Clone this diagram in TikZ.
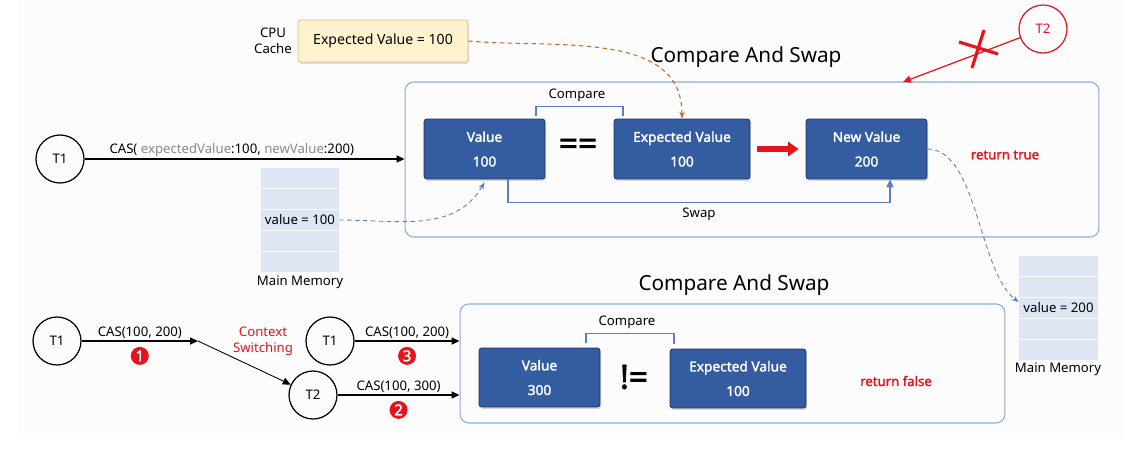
\documentclass[tikz,border=0pt]{standalone}
\usepackage{fontspec}
\setmainfont{Noto Sans}[AutoFakeBold=2]
\usetikzlibrary{arrows.meta,shadows}
\definecolor{boxblue}{HTML}{335DA0}
\definecolor{boxedge}{HTML}{1F3560}
\definecolor{lineblue}{HTML}{5B7EC2}
\definecolor{frameblue}{HTML}{8FAADC}
\definecolor{cellblue}{HTML}{DEE5F3}
\definecolor{cachefill}{HTML}{FFF2CC}
\definecolor{cacheedge}{HTML}{F2B880}
\definecolor{dashorange}{HTML}{C46A2A}
\definecolor{alertred}{HTML}{E8141B}
\definecolor{argray}{HTML}{8A8A8A}

\tikzset{
  valbox/.style={draw=boxedge, fill=boxblue, rounded corners=1.5pt, text=white, align=center,
    font=\fontsize{7.8}{14}\selectfont\bfseries, minimum height=1.2cm,
    drop shadow={shadow xshift=0.6pt, shadow yshift=-1pt, opacity=0.3}},
  frame/.style={draw=frameblue, rounded corners=5pt, line width=0.6pt},
  thread/.style={draw, circle, minimum size=0.96cm, inner sep=0pt, line width=0.7pt,
    font=\fontsize{7.5}{9}\selectfont},
  cell/.style={fill=cellblue, minimum height=0.4cm, inner sep=0pt, font=\fontsize{7.5}{9}\selectfont},
  lbl/.style={font=\fontsize{7.5}{9}\selectfont, inner sep=1pt},
  title/.style={font=\fontsize{11.8}{15}\selectfont},
  numdot/.style={circle, fill=alertred, text=white, minimum size=0.36cm, inner sep=0pt,
    font=\fontsize{8.5}{8}\selectfont\bfseries},
  redtext/.style={text=alertred, font=\fontsize{7.5}{9}\selectfont\bfseries},
  memdash/.style={lineblue, dash pattern=on 2.5pt off 2pt, line width=0.5pt, -{Stealth[length=4pt]}},
}

\begin{document}
\begin{tikzpicture}[x=0.02cm, y=-0.02cm, >={Triangle[length=4.5pt,width=4pt]}]
    \useasboundingbox (0,0) rectangle (1136,463);
    \fill[black!1.2] (18,0) rectangle (1124,438);

    % T1 succeeds
    \node[lbl, align=center] (cpu) at (273,41) {CPU\\Cache};
    \node[draw=cacheedge, fill=cachefill, rounded corners=1.5pt, minimum width=3.4cm, minimum height=0.84cm,
      font=\fontsize{8}{10}\selectfont, drop shadow={shadow xshift=0.6pt, shadow yshift=-1pt, opacity=0.25}]
      (cache) at (383,41) {Expected Value = 100};
    \node[title] (titleA) at (746,57) {Compare And Swap};
    \node[frame, minimum width=13.88cm, minimum height=3.1cm] (casA) at (752,159.5) {};
    \node[thread] (t1a) at (60,159) {T1};
    \node[valbox, minimum width=2.42cm] (vA) at (484.5,149) {Value\\100};
    \node[font=\fontsize{19}{19}\selectfont\bfseries] (eqA) at (578,147) {==};
    \node[valbox, minimum width=2.72cm] (evA) at (682,149) {Expected Value\\100};
    \node[valbox, minimum width=2.42cm] (nvA) at (866.5,149) {New Value\\200};
    \node[redtext] (okA) at (1005,155) {return true};
    \node[lbl] (cmpA) at (577,95) {Compare};
    \node[lbl] (swapA) at (699,214) {Swap};
    \node[thread, draw=alertred, text=alertred] (t2a) at (1043,29) {T2};
    \coordinate (hit) at (903,82);

    \foreach \i/\y/\txt in {1/178/{},2/199/{},3/220/{value = 100},4/241/{},5/262/{}}
      \node[cell, minimum width=1.56cm] (mA\i) at (300,\y) {\txt};
    \node[lbl] (memA) at (300,282) {Main Memory};
    \foreach \i/\y/\txt in {1/266/{},2/287/{},3/308/{value = 200},4/329/{},5/350/{}}
      \node[cell, minimum width=1.58cm] (mB\i) at (1058.5,\y) {\txt};
    \node[lbl] (memB) at (1058,369) {Main Memory};

    \draw[->, line width=0.7pt] (t1a) -- (t1a -| casA.west)
      node[lbl, pos=0.46, above] {CAS( \textcolor{argray}{expectedValue}:100, \textcolor{argray}{newValue}:200)};
    \draw[lineblue, line width=0.6pt] ([xshift=1.03cm,yshift=0.06cm]vA.north) -- ++(0,-9)
      -| ([xshift=-1.18cm,yshift=0.06cm]evA.north);
    \draw[lineblue, line width=0.6pt, ->] ([xshift=0.47cm]vA.south) -- ++(0,23) -| ([xshift=0.47cm]nvA.south);
    \draw[alertred, line width=3pt, -{Triangle[length=6pt,width=8pt]}] ([xshift=0.14cm]evA.east) -- ([xshift=-0.14cm]nvA.west);
    \draw[dashorange, dash pattern=on 2.5pt off 2pt, line width=0.6pt, -{Stealth[length=4pt]}]
      (cache.east) to[out=-5,in=90] (evA.north);
    \draw[memdash] (mA3.east) to[out=0,in=-120] ([yshift=-0.06cm]vA.south);
    \draw[memdash] (nvA.east) .. controls +(50,0) and +(-40,-30) .. ([yshift=0.12cm]mB3.west);
    \draw[alertred, line width=0.7pt, ->] (t2a) -- (hit);
    \draw[alertred, line width=1.8pt] (959,42) -- (998,54) (984,30) -- (972,68);

    % T2 sneaks in
    \node[title] (titleB) at (734,285) {Compare And Swap};
    \node[frame, minimum width=10.9cm, minimum height=2.38cm] (casB) at (732.5,363.5) {};
    \node[thread] (t1b) at (57,341) {T1};
    \coordinate (sw) at (198,341);
    \node[lbl, text=alertred, align=center] (ctx) at (263,341) {Context\\Switching};
    \node[thread] (t2b) at (313,395) {T2};
    \node[thread] (t1c) at (330,341) {T1};
    \node[valbox, minimum width=2.42cm, minimum height=1.18cm] (vB) at (539.5,377.5) {Value\\300};
    \node[font=\fontsize{19}{19}\selectfont\bfseries] (neB) at (634,377) {!=};
    \node[valbox, minimum width=2.72cm, minimum height=1.18cm] (evB) at (738,378.5) {Expected Value\\100};
    \node[redtext] (noB) at (896,381) {return false};
    \node[lbl] (cmpB) at (627,322) {Compare};

    \draw[->, line width=0.7pt] (t1b) -- (sw)
      node[lbl, midway, above] {CAS(100, 200)} node[numdot, midway, below=3pt] {1};
    \draw[->, line width=0.5pt] (sw) -- (t2b);
    \draw[->, line width=0.7pt] (t1c) -- (t1c -| casB.west)
      node[lbl, midway, above] {CAS(100, 200)} node[numdot, midway, below=3pt] {3};
    \draw[->, line width=0.7pt] (t2b) -- (t2b -| casB.west)
      node[lbl, midway, above] {CAS(100, 300)} node[numdot, midway, below=3pt] {2};
    \draw[lineblue, line width=0.6pt] ([xshift=0.93cm,yshift=0.1cm]vB.north) -- ++(0,-9)
      -| ([xshift=-1.28cm,yshift=0.1cm]evB.north);
\end{tikzpicture}
\end{document}
